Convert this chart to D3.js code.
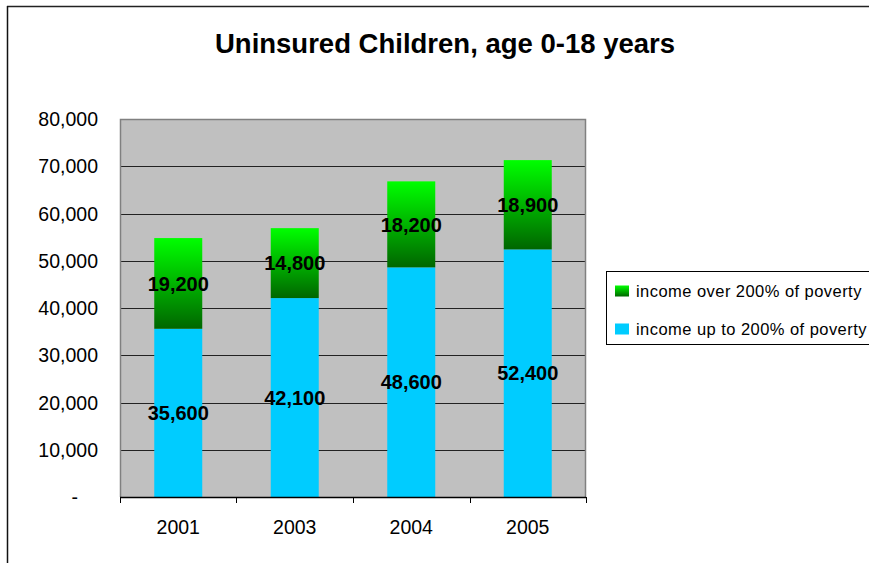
<!DOCTYPE html>
<html>
<head>
<meta charset="utf-8">
<script src="https://cdn.jsdelivr.net/npm/d3@7"></script>
<style>
  html, body { margin: 0; padding: 0; background: #fff; }
  svg { display: block; font-family: "Liberation Sans", Arial, sans-serif; }
</style>
</head>
<body>
<svg id="chart" width="869" height="563"></svg>
<script>
const title = "Uninsured Children, age 0-18 years";
const years = ["2001", "2003", "2004", "2005"];
const upTo200 = [35600, 42100, 48600, 52400];
const over200 = [19200, 14800, 18200, 18900];
const seriesNames = ["income over 200% of poverty", "income up to 200% of poverty"];
const yTicks = [0, 10000, 20000, 30000, 40000, 50000, 60000, 70000, 80000];

const svg = d3.select("#chart");
const W = 869, H = 563;
const plot = { left: 120, right: 586, top: 119, bottom: 497 };

// gradient
const defs = svg.append("defs");
const grad = defs.append("linearGradient").attr("id", "greenGrad")
  .attr("x1", 0).attr("y1", 0).attr("x2", 0).attr("y2", 1);
grad.append("stop").attr("offset", "0%").attr("stop-color", "#00ff00");
grad.append("stop").attr("offset", "100%").attr("stop-color", "#006600");

// outer chart border
svg.append("line").attr("x1", 7).attr("x2", W + 5).attr("y1", 6.5).attr("y2", 6.5)
  .attr("stroke", "#222").attr("stroke-width", 1.5);
svg.append("line").attr("x1", 7.5).attr("x2", 7.5).attr("y1", 6).attr("y2", H + 5)
  .attr("stroke", "#111").attr("stroke-width", 1.5);

// title
svg.append("text").attr("x", 445).attr("y", 53).attr("text-anchor", "middle")
  .attr("font-size", "27.5px").attr("font-weight", "bold").attr("fill", "#000")
  .text(title);

const x = d3.scaleBand().domain(years).range([plot.left, plot.right])
  .paddingInner(0.588).paddingOuter(0.294);
const y = d3.scaleLinear().domain([0, 80000]).range([plot.bottom, plot.top]);

// plot background
svg.append("rect").attr("x", plot.left).attr("y", plot.top)
  .attr("width", plot.right - plot.left).attr("height", plot.bottom - plot.top)
  .attr("fill", "#c0c0c0");

// gridlines
svg.append("g").selectAll("line").data(yTicks.filter(d => d > 0 && d < 80000)).join("line")
  .attr("x1", plot.left).attr("x2", plot.right)
  .attr("y1", d => Math.round(y(d)) + 0.5).attr("y2", d => Math.round(y(d)) + 0.5)
  .attr("stroke", "#222").attr("stroke-width", 1);

// plot border (gray top/left/right)
svg.append("path")
  .attr("d", `M${plot.left + 0.5},${plot.bottom} V${plot.top + 0.5} H${plot.right - 0.5} V${plot.bottom}`)
  .attr("fill", "none").attr("stroke", "#808080").attr("stroke-width", 1.5);

// bars
const data = years.map((yr, i) => ({ yr, a: upTo200[i], b: over200[i] }));
const g = svg.append("g");
g.selectAll("rect.blue").data(data).join("rect").attr("class", "blue")
  .attr("x", d => x(d.yr)).attr("width", x.bandwidth())
  .attr("y", d => y(d.a)).attr("height", d => y(0) - y(d.a))
  .attr("fill", "#00ccff");
g.selectAll("rect.green").data(data).join("rect").attr("class", "green")
  .attr("x", d => x(d.yr)).attr("width", x.bandwidth())
  .attr("y", d => y(d.a + d.b)).attr("height", d => y(d.a) - y(d.a + d.b))
  .attr("fill", "url(#greenGrad)");

// value labels
const fmt = d3.format(",");
const lbl = svg.append("g").attr("font-size", "20px").attr("font-weight", "bold")
  .attr("text-anchor", "middle").attr("fill", "#000");
lbl.selectAll("text.a").data(data).join("text").attr("class", "a")
  .attr("x", d => x(d.yr) + x.bandwidth() / 2)
  .attr("y", d => y(d.a / 2)).attr("dy", "0.36em").text(d => fmt(d.a));
lbl.selectAll("text.b").data(data).join("text").attr("class", "b")
  .attr("x", d => x(d.yr) + x.bandwidth() / 2)
  .attr("y", d => y(d.a + d.b / 2)).attr("dy", "0.36em").text(d => fmt(d.b));

// x axis
const xAxis = svg.append("g");
xAxis.append("line").attr("x1", plot.left).attr("x2", plot.right)
  .attr("y1", plot.bottom + 0.5).attr("y2", plot.bottom + 0.5)
  .attr("stroke", "#000").attr("stroke-width", 1.5);
const bounds = years.map(d => x(d) - x.step() * x.paddingInner() / 2).concat([plot.right]);
xAxis.selectAll("line.tick").data(bounds).join("line").attr("class", "tick")
  .attr("x1", d => Math.round(d) + 0.5).attr("x2", d => Math.round(d) + 0.5)
  .attr("y1", plot.bottom).attr("y2", plot.bottom + 6)
  .attr("stroke", "#000").attr("stroke-width", 1);
xAxis.selectAll("text").data(years).join("text")
  .attr("x", d => x(d) + x.bandwidth() / 2).attr("y", 534)
  .attr("text-anchor", "middle").attr("font-size", "19.5px").attr("fill", "#000")
  .text(d => d);

// y axis labels
svg.append("g").selectAll("text").data(yTicks).join("text")
  .attr("x", 98).attr("y", d => y(d)).attr("dy", "0.36em")
  .attr("text-anchor", "end").attr("font-size", "19.5px").attr("fill", "#000")
  .text(d => d === 0 ? "-" : fmt(d))
  .attr("dx", d => d === 0 ? -20 : 0);

// legend
const leg = svg.append("g");
leg.append("rect").attr("x", 606.5).attr("y", 271.5).attr("width", 300).attr("height", 73)
  .attr("fill", "#fff").attr("stroke", "#000").attr("stroke-width", 1);
const legItems = [
  { name: seriesNames[0], fill: "url(#greenGrad)", cy: 291 },
  { name: seriesNames[1], fill: "#00ccff", cy: 329 }
];
legItems.forEach(it => {
  leg.append("rect").attr("x", 615).attr("y", it.cy - 5.5).attr("width", 14).attr("height", 11)
    .attr("fill", it.fill);
  leg.append("text").attr("x", 636).attr("y", it.cy).attr("dy", "0.36em")
    .attr("font-size", "16.5px").attr("letter-spacing", "0.45px").attr("fill", "#000")
    .text(it.name);
});
</script>
</body>
</html>
